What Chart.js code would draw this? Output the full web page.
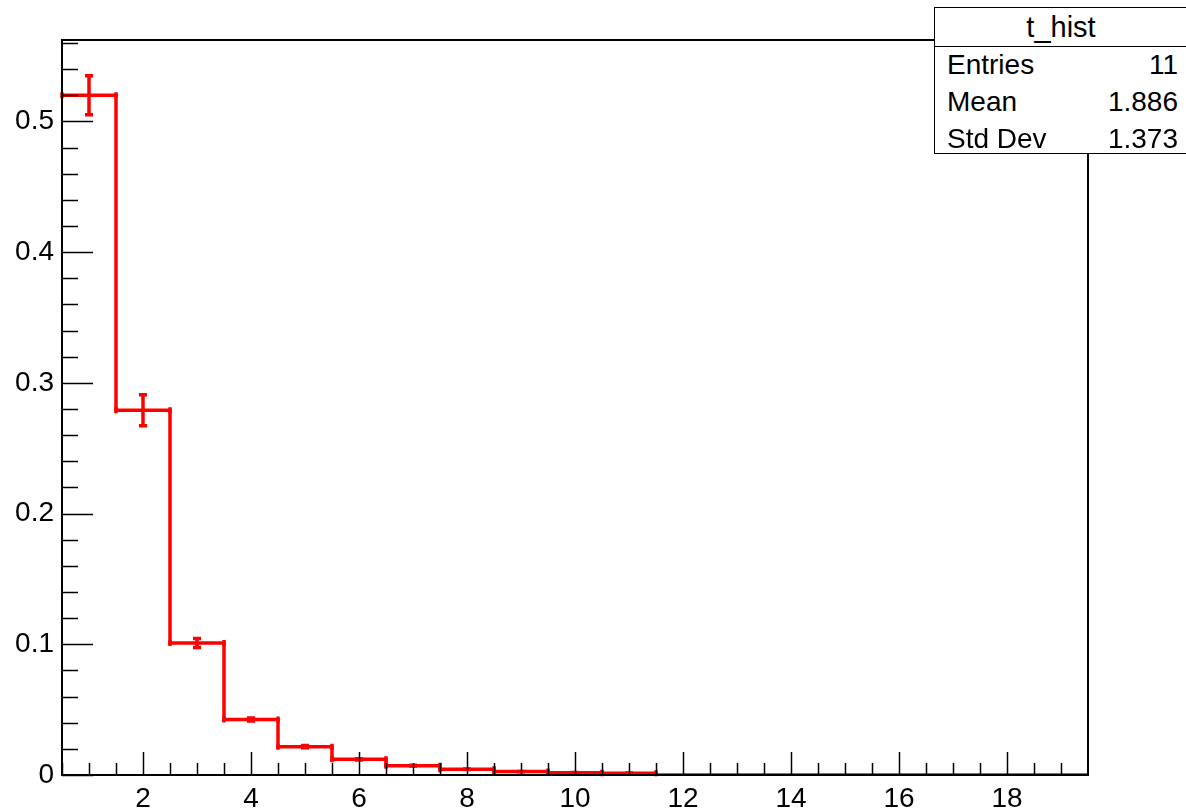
<!DOCTYPE html>
<html>
<head>
<meta charset="utf-8">
<title>t_hist</title>
<script src="https://cdn.jsdelivr.net/npm/chart.js@4/dist/chart.umd.min.js"></script>
<style>
  html, body { margin: 0; padding: 0; background: #fff; overflow: hidden; }
  #wrap { position: relative; width: 1186px; height: 808px; overflow: hidden; }
  #stats {
    position: absolute; left: 934px; top: 7px; width: 260px; height: 145px;
    border: 1.5px solid #000; background: #fff;
    font-family: "Liberation Sans", Arial, sans-serif; color: #000;
  }
  #stats .title {
    position: absolute; left: 0; top: 0; width: 252px; height: 38px; line-height: 38px;
    text-align: center; font-size: 29px; border-bottom: 1.5px solid #000;
  }
  #stats .row { position: absolute; left: 0; width: 260px; height: 36px; line-height: 36px; font-size: 28px; }
  #stats .row .k { position: absolute; left: 12px; }
  #stats .row .v { position: absolute; right: 17px; }
</style>
</head>
<body>
<div id="wrap">
  <canvas id="c" width="1186" height="808"></canvas>
  <div id="stats"></div>
</div>
<script>
// Histogram "t_hist": 19 unit-wide bins centred on 1..19
const binCenters  = [1, 2, 3, 4, 5, 6, 7, 8, 9, 10, 11, 12, 13, 14, 15, 16, 17, 18, 19];
const binContents = [0.520, 0.279, 0.101, 0.0425, 0.0217, 0.012, 0.0071, 0.0044, 0.0026, 0.0018, 0.0014,
                     0, 0, 0, 0, 0, 0, 0, 0];
const binErrors   = [0.0149, 0.0119, 0.0035, 0.0012, 0.0008, 0.0005, 0.0003, 0.0002, 0.0001, 0.0001, 0.0001,
                     0, 0, 0, 0, 0, 0, 0, 0];
const binWidth = 1;

const xTickLabels = [2, 4, 6, 8, 10, 12, 14, 16, 18];
const yTickLabels = [0, 0.1, 0.2, 0.3, 0.4, 0.5];

const statNames  = ["Entries", "Mean", "Std Dev"];
const statValues = ["11", "1.886", "1.373"];
const histTitle = "t_hist";

const xMin = 0.5, xMax = 19.5, yMin = 0, yMax = 0.5623;
const FONT = '"Liberation Sans", Arial, sans-serif';
const LINE_W = 3.5;

// step outline: one point per bin left edge, closing point at the last right edge
const stepPoints = binCenters.map((c, i) => ({ x: c - binWidth / 2, y: binContents[i] }));
stepPoints.push({ x: binCenters[binCenters.length - 1] + binWidth / 2, y: binContents[binContents.length - 1] });

// error bars with end caps, plus short end marks at the bin edges
const errorBars = {
  id: 'errorBars',
  afterDatasetsDraw(chart) {
    const { ctx, scales: { x, y } } = chart;
    ctx.save();
    ctx.strokeStyle = '#ff0000';
    ctx.lineWidth = LINE_W;
    ctx.lineCap = 'butt';
    binCenters.forEach((c, i) => {
      const v = binContents[i];
      if (v <= 0) return;
      const e = binErrors[i];
      const px = x.getPixelForValue(c);
      const py = y.getPixelForValue(v);
      const pTop = y.getPixelForValue(v + e);
      const pBot = y.getPixelForValue(v - e);
      ctx.beginPath();
      ctx.moveTo(px, pTop); ctx.lineTo(px, pBot);
      ctx.moveTo(px - 4, pTop); ctx.lineTo(px + 4, pTop);
      ctx.moveTo(px - 4, pBot); ctx.lineTo(px + 4, pBot);
      const lo = x.getPixelForValue(c - binWidth / 2);
      const hi = x.getPixelForValue(c + binWidth / 2);
      ctx.moveTo(lo, py - 3); ctx.lineTo(lo, py + 3);
      ctx.moveTo(hi, py - 3); ctx.lineTo(hi, py + 3);
      ctx.stroke();
    });
    ctx.restore();
  }
};

// frame with inward tick marks on the left and bottom axes
const frameAxes = {
  id: 'frameAxes',
  afterDraw(chart) {
    const { ctx, chartArea: a, scales: { x, y } } = chart;
    ctx.save();
    ctx.strokeStyle = '#000';
    ctx.lineWidth = 2;
    ctx.strokeRect(a.left, a.top, a.right - a.left, a.bottom - a.top);
    ctx.lineWidth = 1.5;
    ctx.beginPath();
    for (let k = 0; k <= 28; k++) {
      const v = k * 0.02;
      if (v > yMax) break;
      const py = Math.round(y.getPixelForValue(v)) + 0.5;
      const len = (k % 5 === 0) ? 31 : 16;
      ctx.moveTo(a.left, py); ctx.lineTo(a.left + len, py);
    }
    for (let k = 1; k < 39; k++) {
      const v = k * 0.5;
      const px = Math.round(x.getPixelForValue(v)) + 0.5;
      const len = (v % 2 === 0) ? 23 : 12;
      ctx.moveTo(px, a.bottom); ctx.lineTo(px, a.bottom - len);
    }
    ctx.stroke();
    ctx.restore();
  }
};

new Chart(document.getElementById('c'), {
  type: 'scatter',
  data: {
    datasets: [{
      label: histTitle,
      data: stepPoints,
      showLine: true,
      stepped: 'before',
      borderColor: '#ff0000',
      borderWidth: LINE_W,
      pointRadius: 0,
      fill: false
    }]
  },
  options: {
    responsive: false,
    animation: false,
    events: [],
    layout: { padding: { top: 40, right: 98, left: 0, bottom: 0 } },
    plugins: { legend: { display: false }, tooltip: { enabled: false }, title: { display: false } },
    scales: {
      x: {
        type: 'linear', min: xMin, max: xMax,
        grid: { display: false, drawTicks: false },
        border: { display: false },
        ticks: {
          color: '#000', font: { family: FONT, size: 28 }, padding: 7,
          maxRotation: 0, autoSkip: false,
          callback: v => String(v)
        },
        afterBuildTicks: s => { s.ticks = xTickLabels.map(v => ({ value: v })); },
        afterFit: s => { s.height = 33; }
      },
      y: {
        type: 'linear', min: yMin, max: yMax,
        grid: { display: false, drawTicks: false },
        border: { display: false },
        ticks: {
          color: '#000', font: { family: FONT, size: 28 }, padding: 8,
          autoSkip: false,
          callback: v => (v === 0 ? '0' : v.toFixed(1))
        },
        afterBuildTicks: s => { s.ticks = yTickLabels.map(v => ({ value: v })); },
        afterFit: s => { s.width = 62; }
      }
    }
  },
  plugins: [errorBars, frameAxes]
});

// statistics box
const stats = document.getElementById('stats');
const t = document.createElement('div');
t.className = 'title';
t.textContent = histTitle;
stats.appendChild(t);
statNames.forEach((name, i) => {
  const row = document.createElement('div');
  row.className = 'row';
  row.style.top = (39 + i * 37) + 'px';
  const k = document.createElement('span'); k.className = 'k'; k.textContent = name;
  const v = document.createElement('span'); v.className = 'v'; v.textContent = statValues[i];
  row.appendChild(k); row.appendChild(v);
  stats.appendChild(row);
});
</script>
</body>
</html>
